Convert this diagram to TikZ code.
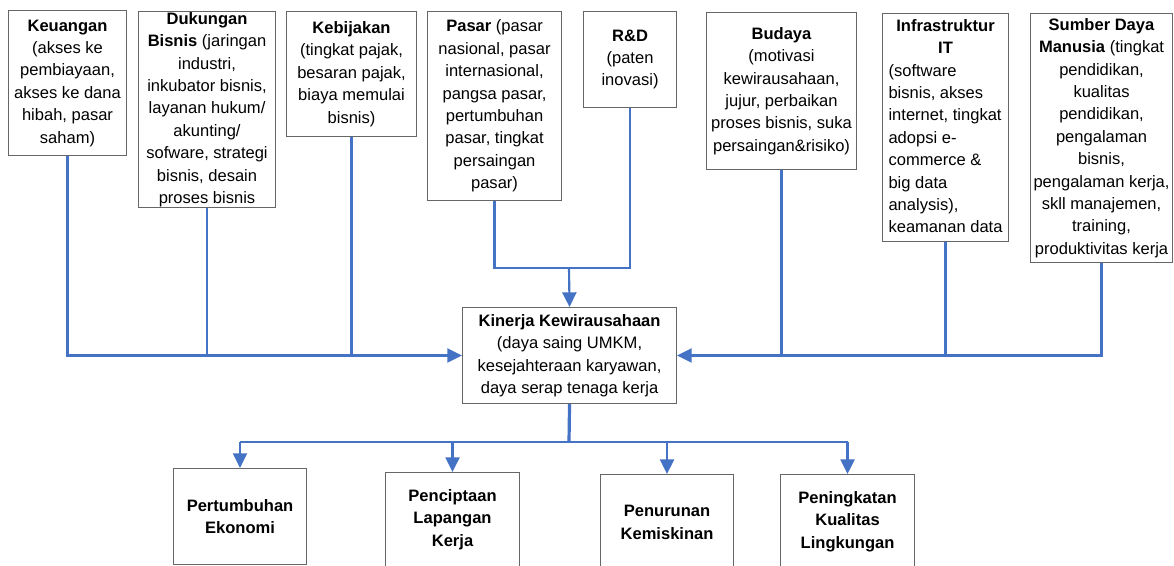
\documentclass[tikz,border=0pt]{standalone}
\usepackage{fontspec}
\setmainfont{Liberation Sans}
\usepackage{tikz}
\usetikzlibrary{arrows.meta}
\definecolor{linkblue}{RGB}{68,114,196}

\begin{document}
\begin{tikzpicture}[x=0.75pt, y=-0.75pt,
  box/.style 2 args={draw=black!60, line width=0.8pt, anchor=north west, align=center,
    inner xsep=1pt, inner ysep=0.5pt, minimum width=#1*0.75pt, minimum height=#2*0.75pt,
    font=\fontsize{12.4pt}{16.8pt}\selectfont},
  link/.style={draw=linkblue, line width=1.6pt},
  arr/.style={link, -{Triangle[length=11pt,width=10.5pt]}}]
\useasboundingbox (0,0) rectangle (1174,566);
\clip (0,0) rectangle (1174,566);
%%%%% Faktor %%%%%
\node[box={118}{145}] (keu) at (8,10) {\textbf{Keuangan}\\(akses ke\\pembiayaan,\\akses ke dana\\hibah, pasar\\saham)};
\node[box={137}{196}] (duk) at (138,11) {\textbf{Dukungan}\\\textbf{Bisnis} (jaringan\\industri,\\inkubator bisnis,\\layanan hukum/\\akunting/\\sofware, strategi\\bisnis, desain\\proses bisnis};
\node[box={130}{125}] (keb) at (286,11) {\textbf{Kebijakan}\\(tingkat pajak,\\besaran pajak,\\biaya memulai\\bisnis)};
\node[box={134}{189}] (pas) at (427,11) {\textbf{Pasar} (pasar\\nasional, pasar\\internasional,\\pangsa pasar,\\pertumbuhan\\pasar, tingkat\\persaingan\\pasar)};
\node[box={93}{96}] (rd) at (583,11) {\textbf{R\&D}\\(paten\\inovasi)};
\node[box={150}{157}] (bud) at (706,12) {\textbf{Budaya}\\(motivasi\\kewirausahaan,\\jujur, perbaikan\\proses bisnis, suka\\persaingan\&risiko)};
\node[box={126}{228}] (it) at (882,13) {\begin{tabular}{@{}l@{}}\multicolumn{1}{@{}c@{}}{\textbf{Infrastruktur}}\\\multicolumn{1}{@{}c@{}}{\textbf{IT}}\\(software\\bisnis, akses\\internet, tingkat\\adopsi e-\\commerce \&\\big data\\analysis),\\keamanan data\end{tabular}};
\node[box={142}{249}] (sdm) at (1030,13) {\textbf{Sumber Daya}\\\textbf{Manusia} (tingkat\\pendidikan,\\kualitas\\pendidikan,\\pengalaman\\bisnis,\\pengalaman kerja,\\skll manajemen,\\training,\\produktivitas kerja};
%%%%% Kinerja %%%%%
\node[box={214}{96}] (kin) at (462,307) {\textbf{Kinerja Kewirausahaan}\\(daya saing UMKM,\\kesejahteraan karyawan,\\daya serap tenaga kerja};
%%%%% Dampak %%%%%
\node[box={133}{96}, font=\fontsize{12.4pt}{16.8pt}\selectfont\bfseries] (pe) at (173,468) {Pertumbuhan\\Ekonomi};
\node[box={134}{94}, font=\fontsize{12.4pt}{16.8pt}\selectfont\bfseries] (plk) at (385,472) {Penciptaan\\Lapangan\\Kerja};
\node[box={133}{96}, font=\fontsize{12.4pt}{16.8pt}\selectfont\bfseries] (pk) at (600,474) {Penurunan\\Kemiskinan};
\node[box={134}{94}, font=\fontsize{12.4pt}{16.8pt}\selectfont\bfseries] (pkl) at (780,474) {Peningkatan\\Kualitas\\Lingkungan};
%%%%% Connectors %%%%%
\draw[arr] (keu.south) |- (kin.west);
\foreach \n in {duk,keb}{
\draw[link] (\n.south) -- (\n.south |- kin.west);
}
\draw[arr] (sdm.south) |- (kin.east);
\foreach \n in {bud,it}{
\draw[link] (\n.south) -- (\n.south |- kin.east);
}
\coordinate (jn) at (569,268);
\draw[link] (pas.south) |- (jn) -| (rd.south);
\draw[arr] (jn) -- (kin.north);
\coordinate (sp) at (569,442);
\draw[link, line width=2.4pt] (kin.south) -- (sp);
\draw[link] (pe.north |- sp) -- (pkl.north |- sp);
\foreach \n in {pe,plk,pk,pkl}{
\draw[arr] (\n.north |- sp) -- (\n.north);
}
\end{tikzpicture}
\end{document}
